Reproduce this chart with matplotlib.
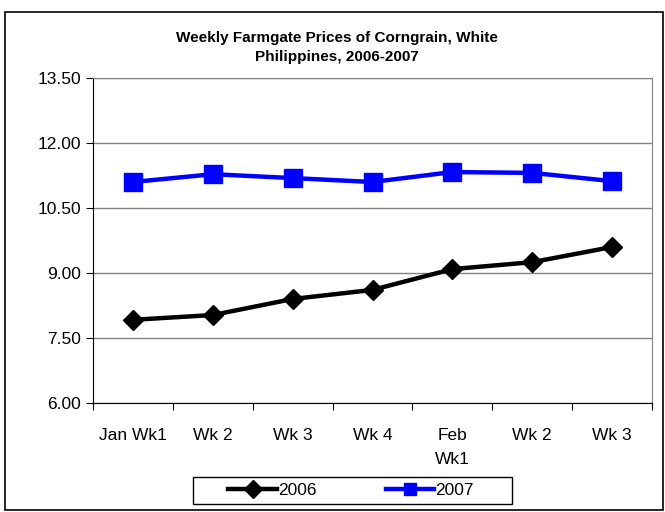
import matplotlib.pyplot as plt
from matplotlib.patches import Rectangle

plt.rcParams['font.family'] = ['Liberation Sans', 'DejaVu Sans']

weeks = ['Jan Wk1', 'Wk 2', 'Wk 3', 'Wk 4', 'Feb\nWk1', 'Wk 2', 'Wk 3']
prices_2006 = [7.92, 8.03, 8.40, 8.61, 9.09, 9.25, 9.60]
prices_2007 = [11.10, 11.28, 11.19, 11.10, 11.33, 11.31, 11.12]

fig = plt.figure(figsize=(6.65, 5.12), dpi=100)
ax = fig.add_axes([93 / 665, 109 / 512, 559 / 665, 325 / 512])

# outer chart border
fig.patches.append(Rectangle((0.008, 0.003), 0.989, 0.973, transform=fig.transFigure,
                             fill=False, edgecolor='black', linewidth=1.2))
# legend border (Excel style, wider than its content)
fig.patches.append(Rectangle((193 / 665, 8 / 512), 319 / 665, 27 / 512, transform=fig.transFigure,
                             fill=False, edgecolor='black', linewidth=1))

x = range(len(weeks))
ax.plot(x, prices_2006, color='black', linewidth=3.2, marker='D', markersize=10.5, label='2006')
ax.plot(x, prices_2007, color='#0000ff', linewidth=3.2, marker='s', markersize=12.5, label='2007')

ax.set_xlim(-0.5, len(weeks) - 0.5)
ax.set_ylim(6, 13.5)
yt = [6, 7.5, 9, 10.5, 12, 13.5]
ax.set_yticks(yt)
ax.set_yticklabels(['%.2f' % v for v in yt], fontsize=12.5)
ax.yaxis.grid(True, color='#808080', linewidth=1)
ax.set_axisbelow(True)

# ticks between categories, labels under each category
ax.set_xticks([i + 0.5 for i in range(-1, len(weeks))])
ax.set_xticklabels([])
ax.set_xticks(list(x), minor=True)
ax.set_xticklabels(weeks, minor=True, fontsize=12.5, linespacing=1.75)
ax.tick_params(axis='x', which='minor', length=0, pad=18)
ax.tick_params(axis='x', which='major', length=5)
ax.tick_params(axis='y', length=5)

for s in ['top', 'right']:
    ax.spines[s].set_color('#808080')
for s in ['left', 'bottom']:
    ax.spines[s].set_color('black')

fig.text(0.507, 0.908, 'Weekly Farmgate Prices of Corngrain, White\nPhilippines, 2006-2007',
         ha='center', va='center', fontsize=11, fontweight='bold', linespacing=1.45)

leg = fig.legend(loc='center', bbox_to_anchor=(351 / 665, 21.5 / 512), ncol=2, frameon=False,
                 fontsize=12.5, handlelength=2.8, columnspacing=4.0,
                 handletextpad=0.05, borderpad=0, borderaxespad=0)
for h in leg.legend_handles:
    h.set_markersize(9)

fig.savefig('out.png', dpi=100)
